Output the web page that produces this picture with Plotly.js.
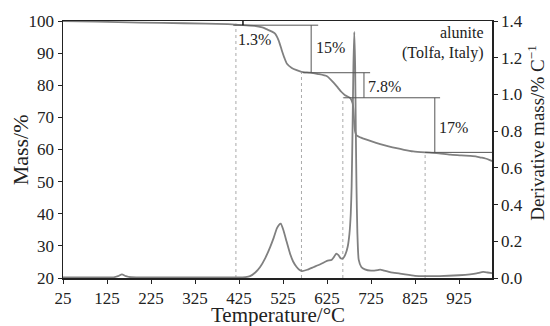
<!DOCTYPE html>
<html>
<head>
<meta charset="utf-8">
<script src="https://cdn.plot.ly/plotly-3.0.1.min.js"></script>
<style>html,body{margin:0;padding:0;background:#fff;}#chart{width:550px;height:326px;}</style>
</head>
<body>
<div id="chart"></div>
<script>
// ---- Data (TG / DTG of alunite, Tolfa, Italy) ----
const massTemp = [25, 100, 200, 300, 400, 434, 460, 478, 490, 500, 507, 515, 522, 528, 534, 545, 556, 567, 587, 605, 625, 640, 650, 658, 666, 678, 683, 685, 687, 689, 692, 700, 708, 725, 746, 765, 783, 800, 821, 848, 874, 905, 930, 950, 965, 975, 985, 995, 1000];
const massPct  = [100, 99.8, 99.5, 99.3, 99.0, 98.7, 98.5, 98.0, 97.3, 96.7, 96.1, 94.0, 91.0, 88.6, 86.7, 85.4, 84.7, 84.2, 83.9, 83.5, 82.8, 80.8, 79.2, 77.9, 76.9, 76.0, 74.5, 72.5, 68.0, 65.5, 64.4, 63.8, 63.4, 62.6, 61.7, 61.0, 60.4, 59.9, 59.4, 59.1, 58.9, 58.4, 58.2, 58.0, 57.8, 57.5, 57.2, 56.7, 56.4];

const dtgTemp = [25, 100, 140, 150, 159, 168, 180, 250, 350, 420, 440, 450, 462, 473, 485, 496, 504, 511, 516, 520, 526, 533, 541, 548, 556, 562, 568, 580, 595, 610, 625, 636, 641, 646, 651, 656, 661, 667, 672, 676, 679, 681, 683, 685, 687, 689, 690.5, 692, 694, 697, 703, 711, 725, 740, 746, 755, 770, 791, 825, 850, 880, 925, 950, 965, 980, 990, 1000];
const dtgVal  = [0.003, 0.003, 0.004, 0.01, 0.02, 0.01, 0.004, 0.003, 0.003, 0.003, 0.005, 0.01, 0.03, 0.06, 0.11, 0.17, 0.22, 0.27, 0.29, 0.296, 0.26, 0.2, 0.133, 0.09, 0.06, 0.045, 0.038, 0.045, 0.06, 0.075, 0.093, 0.1, 0.115, 0.133, 0.125, 0.108, 0.106, 0.13, 0.17, 0.24, 0.35, 0.5, 0.8, 1.15, 1.34, 1.15, 0.8, 0.5, 0.25, 0.1, 0.06, 0.047, 0.04, 0.043, 0.046, 0.04, 0.03, 0.024, 0.012, 0.01, 0.01, 0.015, 0.02, 0.025, 0.033, 0.03, 0.027];

// Mass-loss steps: temperature at end of each step, mass level, label
const stepTemp   = [418, 567, 661, 848];
const stepMass   = [98.7, 83.9, 76.1, 59.1];
const stepLabels = ['1.3%', '15%', '7.8%', '17%'];

const xTickVals = [25, 125, 225, 325, 425, 525, 625, 725, 825, 925];
const sampleLines = ['alunite', '(Tolfa, Italy)'];
const xTitle = 'Temperature/°C';
const yTitle = 'Mass/%';
const y2Title = 'Derivative mass/% C<sup>−1</sup>';

// ---- Layout helpers (positions / styles, not data) ----
const bracketX   = [434, 589, 709, 870];
const levelSpan  = [[412, 605], [570, 723], [662, 882], [848, 1000]];
const labelPos   = [[419, 94.3], [595, 91.8], [713, 79.7], [876, 66.9]];

const FONT = '"Liberation Serif", "Times New Roman", serif';
const curveColor = '#808080';
const lineColor = '#555';
const textColor = '#222';

const traces = [
  {x: massTemp, y: massPct, type: 'scatter', mode: 'lines', line: {color: curveColor, width: 1.8, shape: 'spline', smoothing: 0.6}, xaxis: 'x', yaxis: 'y', hoverinfo: 'skip'},
  {x: dtgTemp, y: dtgVal, type: 'scatter', mode: 'lines', line: {color: curveColor, width: 1.8, shape: 'spline', smoothing: 0.5}, xaxis: 'x', yaxis: 'y2', hoverinfo: 'skip'}
];

const shapes = [];
stepTemp.forEach((t, i) => {
  shapes.push({type: 'line', xref: 'x', yref: 'y', x0: t, x1: t, y0: 20, y1: i === 0 ? 99.2 : stepMass[i], line: {color: '#aaa', width: 1, dash: 'dot'}, layer: 'below'});
});
stepMass.forEach((m, i) => {
  shapes.push({type: 'line', xref: 'x', yref: 'y', x0: levelSpan[i][0], x1: levelSpan[i][1], y0: m, y1: m, line: {color: lineColor, width: 1}});
});
stepMass.forEach((m, i) => {
  const top = i === 0 ? 100 : stepMass[i-1];
  shapes.push({type: 'line', xref: 'x', yref: 'y', x0: bracketX[i], x1: bracketX[i], y0: top, y1: m, line: {color: i === 0 ? '#111' : lineColor, width: i === 0 ? 1.5 : 1}});
});

const annotations = stepLabels.map((lab, i) => ({
  text: lab, xref: 'x', yref: 'y', x: labelPos[i][0], y: labelPos[i][1],
  xanchor: 'left', yanchor: 'middle', showarrow: false, font: {family: FONT, size: 16, color: textColor}
}));
annotations.push({text: sampleLines[0], xref: 'paper', yref: 'paper', x: 0.985, y: 0.956, xanchor: 'right', yanchor: 'middle', showarrow: false, font: {family: FONT, size: 16, color: textColor}});
annotations.push({text: sampleLines[1], xref: 'paper', yref: 'paper', x: 0.985, y: 0.874, xanchor: 'right', yanchor: 'middle', showarrow: false, font: {family: FONT, size: 16, color: textColor}});
// axis titles, placed as in the reference
annotations.push({text: xTitle, xref: 'paper', yref: 'paper', x: 0.501, y: -0.143, xanchor: 'center', yanchor: 'middle', showarrow: false, font: {family: FONT, size: 21, color: textColor}});
annotations.push({text: yTitle, xref: 'paper', yref: 'paper', x: -0.100, y: 0.497, xanchor: 'center', yanchor: 'middle', textangle: -90, showarrow: false, font: {family: FONT, size: 22, color: textColor}});
annotations.push({text: y2Title, xref: 'paper', yref: 'paper', x: 1.1026, y: 0.565, xanchor: 'center', yanchor: 'middle', textangle: -90, showarrow: false, font: {family: FONT, size: 19, color: textColor}});

const axisLine = {showline: true, linecolor: '#222', linewidth: 1.5, showgrid: false, zeroline: false};

const layout = {
  width: 550, height: 326,
  margin: {l: 63, r: 58, t: 21, b: 48, pad: 0},
  paper_bgcolor: '#fff', plot_bgcolor: '#fff',
  showlegend: false,
  font: {family: FONT, size: 17, color: textColor},
  xaxis: Object.assign({}, axisLine, {
    range: [25, 1000], tickvals: xTickVals, ticktext: xTickVals.map(String),
    ticks: 'outside', ticklen: 4, tickcolor: '#222', mirror: true,
    tickfont: {family: FONT, size: 17, color: textColor},
    automargin: false
  }),
  yaxis: Object.assign({}, axisLine, {
    range: [20, 100], dtick: 10, tick0: 20,
    ticks: 'outside', ticklen: 4, tickcolor: '#222',
    tickfont: {family: FONT, size: 17, color: textColor},
    automargin: false
  }),
  yaxis2: Object.assign({}, axisLine, {
    overlaying: 'y', side: 'right', anchor: 'x',
    range: [0, 1.4], dtick: 0.2, tick0: 0, tickformat: '.1f',
    ticks: 'outside', ticklen: 4, tickcolor: '#222',
    tickfont: {family: FONT, size: 17, color: textColor},
    automargin: false
  }),
  yaxis3: {
    overlaying: 'y', side: 'right', anchor: 'x',
    range: [0, 1.4], dtick: 0.2, tick0: 0,
    ticks: 'inside', ticklen: 4, tickcolor: '#222', showticklabels: false,
    showline: false, showgrid: false, zeroline: false
  },
  shapes: shapes,
  annotations: annotations
};

Plotly.newPlot('chart', traces, layout, {staticPlot: true, displayModeBar: false});
</script>
</body>
</html>
